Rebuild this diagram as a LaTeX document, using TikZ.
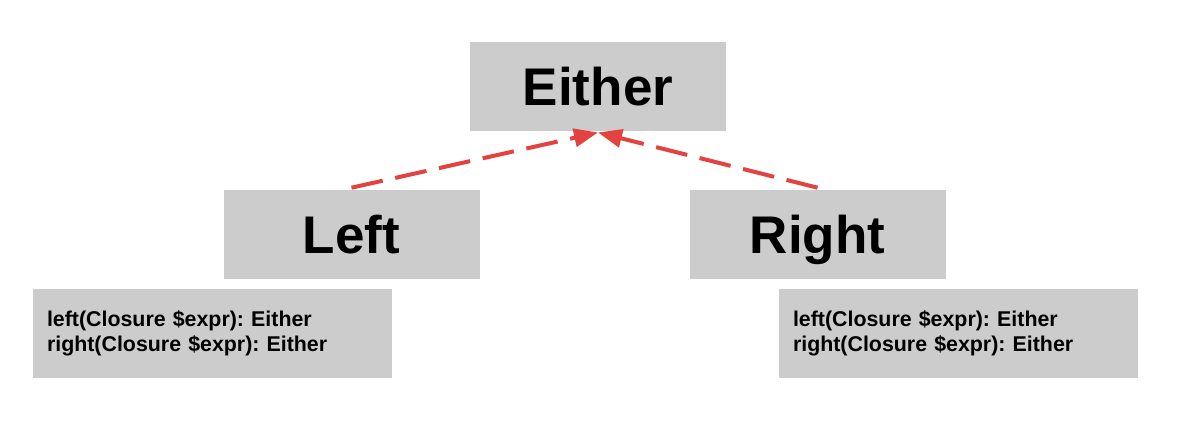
\documentclass[tikz,border=0pt]{standalone}
\usepackage{fontspec}
\setmainfont{Liberation Sans}
\usetikzlibrary{arrows.meta}
\definecolor{boxgrey}{HTML}{CCCCCC}
\definecolor{linkred}{HTML}{E44141}
\frenchspacing
\begin{document}
\begin{tikzpicture} [scale=1.00]
  % box styles for the class names and the method lists
  \tikzstyle{classbox}=[fill=boxgrey,minimum width=6.40cm,minimum height=2.225cm,inner sep=0pt,
    text depth=0pt,font=\fontsize{37.7}{40}\selectfont\bfseries]
  \tikzstyle{opsbox}=[fill=boxgrey,minimum height=2.225cm,inner xsep=0.35cm,inner ysep=0pt,
    text width=8.275cm,align=left,font=\fontsize{15.2}{17.8}\selectfont\bfseries]
  \tikzstyle{extends}=[draw=linkred,line width=0.10cm,dash pattern=on 0.80cm off 0.32cm,
    -{Triangle[length=0.60cm,width=0.45cm]}]

  % fixes the margins
  \useasboundingbox (0.00, 0.00) rectangle (29.625, 10.625);

  % Draw the classes
  \node [classbox] (Either) at (14.95, 8.4625) {Either};
  \node [classbox] (Left)   at (8.7875, 4.7625) {Left};
  \node [classbox] (Right)  at (20.4375, 4.7625) {Right};

  % method lists
  \node [opsbox] (LeftOps)  at (5.3125, 2.2875)  {left(Closure \$expr): Either\\right(Closure \$expr): Either};
  \node [opsbox] (RightOps) at (23.9625, 2.2875) {left(Closure \$expr): Either\\right(Closure \$expr): Either};

  % extends connectors
  \draw [extends] ([yshift=0.05cm]Left.north)  -- ([yshift=-0.03cm]Either.south);
  \draw [extends] ([yshift=0.05cm]Right.north) -- ([yshift=-0.03cm]Either.south);

\end{tikzpicture}
\end{document}
